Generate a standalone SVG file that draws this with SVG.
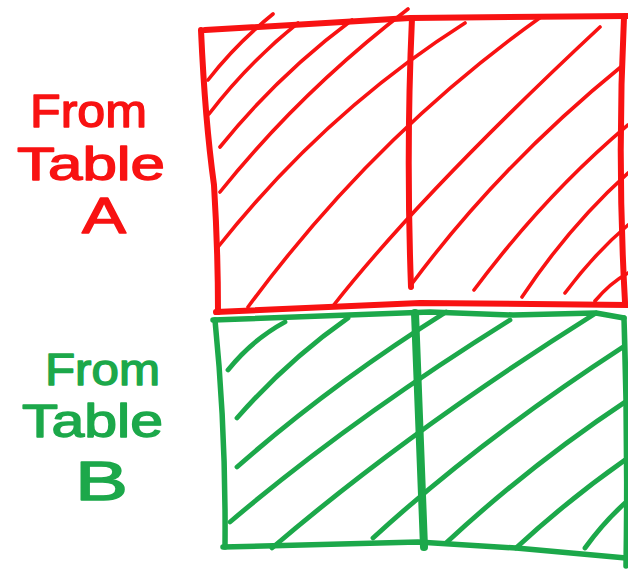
<svg xmlns="http://www.w3.org/2000/svg" width="628" height="571" viewBox="0 0 628 571">
  <style>
    .rf { fill: none; stroke: #f81212; stroke-width: 6; stroke-linecap: round; stroke-linejoin: round; }
    .rh { fill: none; stroke: #f81212; stroke-width: 3.6; stroke-linecap: round; }
    .gf { fill: none; stroke: #1ca84a; stroke-width: 5.5; stroke-linecap: round; stroke-linejoin: round; }
    .gh { fill: none; stroke: #1ca84a; stroke-width: 4.8; stroke-linecap: round; }
    .lbl { font-family: "Liberation Sans", Arial, sans-serif; text-anchor: start; stroke-width: 1.4; stroke-linejoin: round; }
    .red { fill: #f81212; stroke: #f81212; }
    .green { fill: #1ca84a; stroke: #1ca84a; }
  </style>
  <rect width="628" height="571" fill="#ffffff"/>

  <g id="label-table-a" class="lbl red">
    <text x="30" y="127" font-size="46" textLength="117" lengthAdjust="spacingAndGlyphs">From</text>
    <text x="17" y="180" font-size="46" textLength="148" lengthAdjust="spacingAndGlyphs">Table</text>
    <text x="82" y="233" font-size="50" textLength="44" lengthAdjust="spacingAndGlyphs">A</text>
  </g>

  <g id="label-table-b" class="lbl green">
    <text x="45" y="385" font-size="44" textLength="115" lengthAdjust="spacingAndGlyphs">From</text>
    <text x="22" y="437" font-size="46" textLength="141" lengthAdjust="spacingAndGlyphs">Table</text>
    <text x="75" y="500" font-size="56" textLength="53" lengthAdjust="spacingAndGlyphs">B</text>
  </g>

  <g id="table-a-rows">
    <g id="table-a-hatch" class="rh">
      <path d="M208,80 Q236,44 273,14"/>
      <path d="M209,114 Q248,63 298,23"/>
      <path d="M220,147 Q278,75 352,20"/>
      <path d="M220,192 Q300,92 408,9"/>
      <path d="M218,247 Q325,112 465,23"/>
      <path d="M248,307 Q375,135 541,17"/>
      <path d="M333,306 Q420,195 600,27"/>
      <path d="M411,285 Q500,165 622,66"/>
      <path d="M474,290 Q545,195 628,125"/>
      <path d="M522,297 Q570,225 628,173"/>
      <path d="M565,293 Q595,253 628,225"/>
      <path d="M595,301 Q610,283 628,273"/>
    </g>
    <g id="table-a-frame" class="rf">
      <path d="M205,30 L410,18 L628,16"/>
      <path d="M201,30 Q205,120 214,185 Q218,250 218,312"/>
      <path d="M412,18 Q406,150 411,287"/>
      <path d="M624,17 Q617,160 625,302"/>
      <path d="M216,312 L420,303 L628,305"/>
    </g>
  </g>

  <g id="table-b-rows">
    <g id="table-b-hatch" class="gh">
      <path d="M228,370 Q252,340 285,322"/>
      <path d="M237,418 Q288,360 348,318"/>
      <path d="M237,467 Q330,385 446,312"/>
      <path d="M230,522 Q350,420 510,320"/>
      <path d="M272,548 Q410,430 596,313"/>
      <path d="M373,538 Q480,440 623,347"/>
      <path d="M446,543 Q530,465 628,400"/>
      <path d="M516,548 Q568,500 625,460"/>
      <path d="M585,548 Q603,523 625,503"/>
    </g>
    <g id="table-b-frame" class="gf">
      <path d="M213,320 L430,312 L513,315 L596,313 L624,318"/>
      <path d="M215,320 Q226,430 225,547"/>
      <path d="M223,547 L418,542 L516,548 L626,558"/>
      <path d="M415,313 Q420,430 424,547" stroke-width="8"/>
      <path d="M624,318 Q628,440 626,566"/>
    </g>
  </g>
</svg>
